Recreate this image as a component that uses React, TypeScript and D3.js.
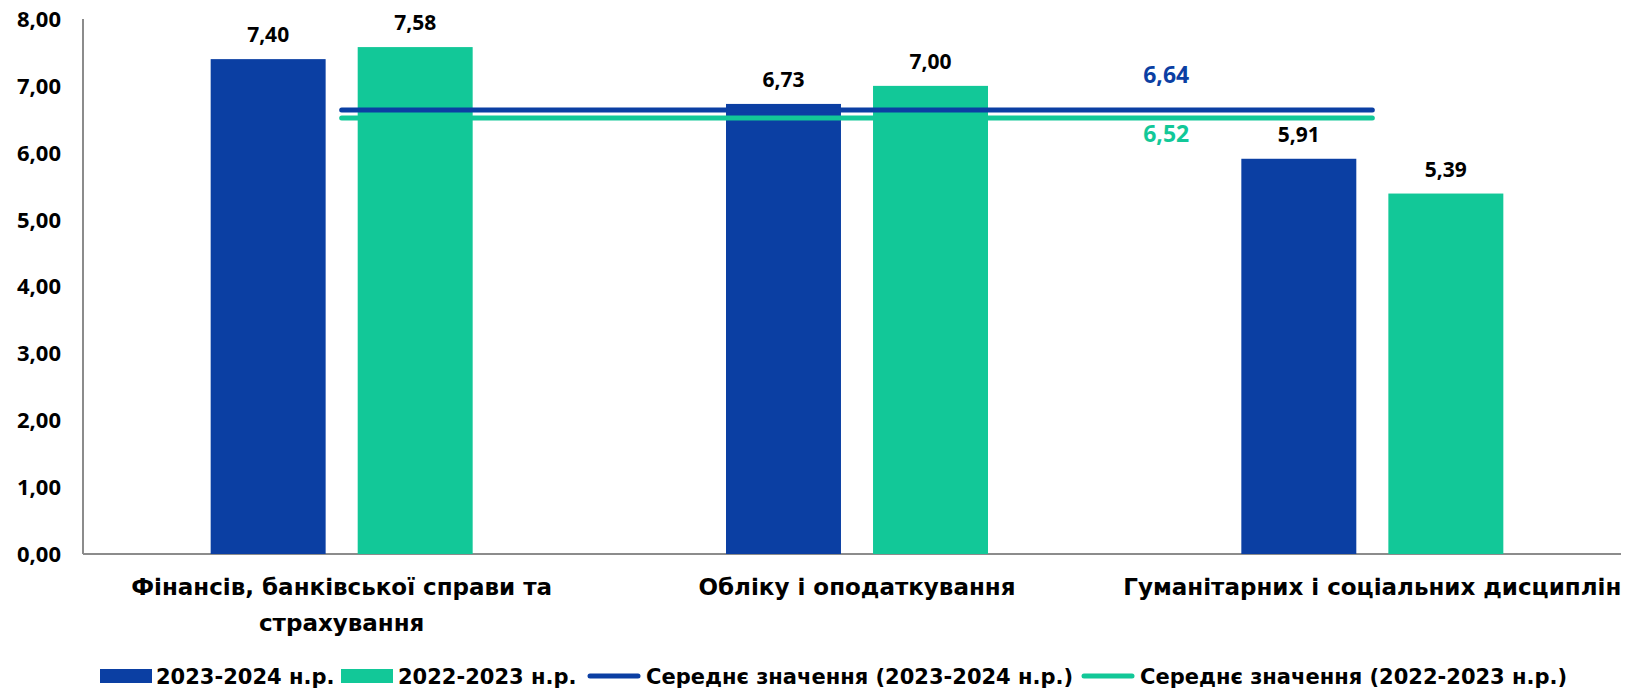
import React from "react";
import * as d3 from "d3";

const categories = [
  ["Фінансів, банківської справи та", "страхування"],
  ["Обліку і оподаткування"],
  ["Гуманітарних і соціальних дисциплін"],
];
const seriesNames = ["2023-2024 н.р.", "2022-2023 н.р."];
const values2324 = [7.4, 6.73, 5.91];
const values2223 = [7.58, 7.0, 5.39];
const avg2324 = 6.64;
const avg2223 = 6.52;
const yTicks = [0, 1, 2, 3, 4, 5, 6, 7, 8];
const avgNames = ["Середнє значення (2023-2024 н.р.)", "Середнє значення (2022-2023 н.р.)"];

const BLUE = "#0B3FA3";
const GREEN = "#12C898";
const NUM_FONT = "'Century Gothic', 'Noto Sans', sans-serif";
const TEXT_FONT = "'Century Gothic', 'DejaVu Sans', sans-serif";

const W = 1635;
const H = 691;

export default function App() {
  const keys = categories.map((c, i) => String(i));
  const x = d3.scaleBand<string>().domain(keys).range([84, 1630]).paddingInner(0).paddingOuter(0);
  const groupW = 262;
  const sub = d3.scaleBand<string>().domain(["a", "b"]).range([0, groupW]).paddingInner(0.218);
  const y = d3.scaleLinear().domain([0, 8]).range([554, 19]);
  const fmt = (v: number) => v.toFixed(2).replace(".", ",");
  const cx = (i: number) => (x(String(i)) as number) + x.bandwidth() / 2;

  const avgLine = d3
    .line<number>()
    .x((d, i) => cx(i))
    .y((d) => y(d));

  const series = [values2324, values2223];
  const colors = [BLUE, GREEN];
  const labelX = cx(1) + 0.6 * (cx(2) - cx(1));

  return (
    <svg width={W} height={H} style={{ position: "absolute", left: 0, top: 0, background: "#fff" }} fontFamily={NUM_FONT}>
      {/* axes */}
      <line x1={83} x2={83} y1={y(8)} y2={y(0)} stroke="#8c8c8c" strokeWidth={2} />
      <line x1={83} x2={1621} y1={y(0)} y2={y(0)} stroke="#8c8c8c" strokeWidth={2} />
      {yTicks.map((t) => (
        <text key={t} x={61} y={y(t)} dy="0.36em" textAnchor="end" fontSize={22} fontWeight="bold" fill="#000">
          {fmt(t)}
        </text>
      ))}

      {/* bars */}
      {series.map((vals, s) =>
        vals.map((v, i) => {
          const bx = (x(String(i)) as number) + (x.bandwidth() - groupW) / 2 + (sub(s === 0 ? "a" : "b") as number);
          return (
            <g key={s + "-" + i}>
              <rect x={bx} y={y(v)} width={sub.bandwidth()} height={y(0) - y(v)} fill={colors[s]} />
              <text x={bx + sub.bandwidth() / 2} y={y(v) - 17} textAnchor="middle" fontSize={21} fontWeight="bold" fill="#000">
                {fmt(v)}
              </text>
            </g>
          );
        })
      )}

      {/* average lines */}
      <path d={avgLine(keys.map(() => avg2324)) || ""} stroke={BLUE} strokeWidth={5} strokeLinecap="round" fill="none" />
      <path d={avgLine(keys.map(() => avg2223)) || ""} stroke={GREEN} strokeWidth={5} strokeLinecap="round" fill="none" />
      <text x={labelX} y={y(avg2324) - 27} textAnchor="middle" fontSize={23} fontWeight="bold" fill={BLUE}>
        {fmt(avg2324)}
      </text>
      <text x={labelX} y={y(avg2223) + 24} textAnchor="middle" fontSize={23} fontWeight="bold" fill={GREEN}>
        {fmt(avg2223)}
      </text>

      {/* category labels */}
      {categories.map((lines, i) => (
        <text key={i} x={cx(i)} y={595} textAnchor="middle" fontSize={23} fontWeight="bold" fill="#000" fontFamily={TEXT_FONT}>
          {lines.map((l, j) => (
            <tspan key={j} x={cx(i)} dy={j === 0 ? 0 : 36}>
              {l}
            </tspan>
          ))}
        </text>
      ))}

      {/* legend */}
      <g fontSize={21} fontWeight="bold" fill="#000" fontFamily={TEXT_FONT}>
        <rect x={100} y={669} width={52} height={14} fill={BLUE} />
        <text x={156} y={676} dy="0.36em">{seriesNames[0]}</text>
        <rect x={341} y={669} width={52} height={14} fill={GREEN} />
        <text x={398} y={676} dy="0.36em">{seriesNames[1]}</text>
        <line x1={590} x2={638} y1={676} y2={676} stroke={BLUE} strokeWidth={5} strokeLinecap="round" />
        <text x={646} y={676} dy="0.36em">{avgNames[0]}</text>
        <line x1={1084} x2={1132} y1={676} y2={676} stroke={GREEN} strokeWidth={5} strokeLinecap="round" />
        <text x={1140} y={676} dy="0.36em">{avgNames[1]}</text>
      </g>
    </svg>
  );
}
